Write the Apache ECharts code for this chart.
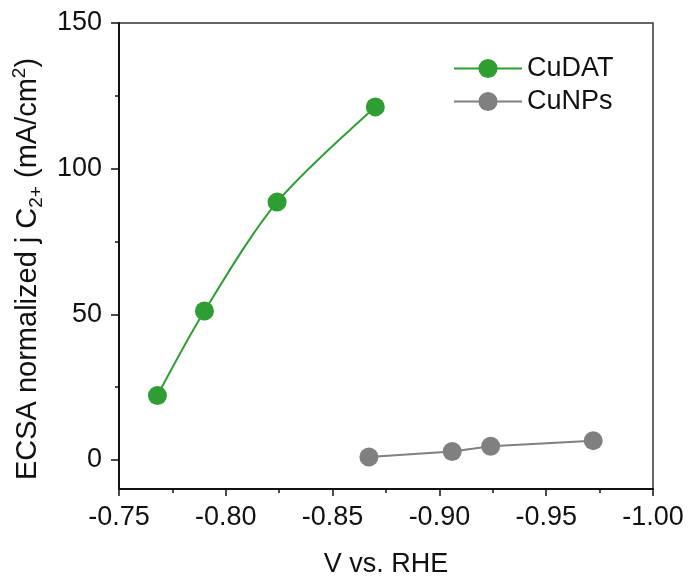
<!DOCTYPE html>
<html>
<head>
<meta charset="utf-8">
<script src="https://cdn.jsdelivr.net/npm/echarts@6/dist/echarts.min.js"></script>
<style>
  html, body { margin: 0; padding: 0; background: #fff; }
  #chart { width: 692px; height: 581px; }
</style>
</head>
<body>
<div id="chart"></div>
<script>
// data
var cudatX = [-0.768, -0.790, -0.824, -0.870];
var cudatY = [22.1, 51.1, 88.5, 121.2];
var cunpsX = [-0.867, -0.906, -0.924, -0.972];
var cunpsY = [1.0, 2.9, 4.7, 6.6];
var yMajor = [0, 50, 100, 150];
var yMinor = [25, 75, 125];

var font = 'Liberation Sans, Arial, sans-serif';

function pairs(xs, ys) {
  var out = [];
  for (var i = 0; i < xs.length; i++) out.push([xs[i], ys[i]]);
  return out;
}

var chart = echarts.init(document.getElementById('chart'));

var option = {
  animation: false,
  backgroundColor: '#fff',
  grid: {
    left: 119, right: 39, top: 23, bottom: 92,
    outerBoundsMode: 'none',
    show: true, borderColor: '#333', borderWidth: 1.5
  },
  legend: {
    orient: 'vertical',
    left: 448,
    top: 50,
    itemWidth: 68,
    itemHeight: 24,
    itemGap: 6,
    textStyle: { fontFamily: font, fontSize: 27, color: '#111' },
    data: ['CuDAT', 'CuNPs']
  },
  xAxis: {
    type: 'value',
    min: -1.0,
    max: -0.75,
    interval: 0.05,
    inverse: true,
    name: 'V vs. RHE',
    nameLocation: 'middle',
    nameGap: 62,
    nameTextStyle: { fontFamily: font, fontSize: 27, color: '#111' },
    axisLine: { onZero: false, lineStyle: { color: '#111', width: 2 } },
    axisTick: { length: 7, lineStyle: { color: '#111', width: 1.5 } },
    minorTick: { show: true, splitNumber: 2, length: 4, lineStyle: { color: '#111', width: 1.5 } },
    axisLabel: {
      fontFamily: font, fontSize: 27, color: '#111', margin: 15,
      formatter: function (v) { return v.toFixed(2); }
    },
    splitLine: { show: false }
  },
  yAxis: [
    {
      type: 'value',
      min: -10,
      max: 150,
      name: '{m|ECSA normalized j C}{sub|2+}{m| (mA/cm}{sup|2}{m|)}',
      nameLocation: 'middle',
      nameGap: 73,
      nameTextStyle: {
        fontFamily: font, fontSize: 29, color: '#111',
        padding: [0, 26, 0, 0],
        rich: {
          m: { fontFamily: font, fontSize: 29, color: '#111', lineHeight: 36 },
          sub: { fontFamily: font, fontSize: 19, color: '#111', lineHeight: 36, verticalAlign: 'bottom' },
          sup: { fontFamily: font, fontSize: 19, color: '#111', lineHeight: 36, verticalAlign: 'top' }
        }
      },
      axisLine: { onZero: false, lineStyle: { color: '#111', width: 2 } },
      axisTick: { customValues: yMajor, length: 8, lineStyle: { color: '#111', width: 1.5 } },
      axisLabel: { customValues: yMajor, fontFamily: font, fontSize: 27, color: '#111', margin: 17 },
      splitLine: { show: false }
    },
    {
      type: 'value',
      min: -10,
      max: 150,
      position: 'left',
      axisLine: { show: false },
      axisTick: { show: true, customValues: yMinor, length: 4, lineStyle: { color: '#111', width: 1.5 } },
      axisLabel: { show: false, customValues: yMinor },
      splitLine: { show: false }
    }
  ],
  series: [
    {
      name: 'CuDAT',
      type: 'line',
      smooth: 0.3,
      symbol: 'circle',
      symbolSize: 19,
      color: '#2e9e32',
      lineStyle: { width: 2 },
      data: pairs(cudatX, cudatY)
    },
    {
      name: 'CuNPs',
      type: 'line',
      symbol: 'circle',
      symbolSize: 19,
      color: '#808080',
      lineStyle: { width: 2 },
      data: pairs(cunpsX, cunpsY)
    }
  ]
};

chart.setOption(option);
</script>
</body>
</html>
